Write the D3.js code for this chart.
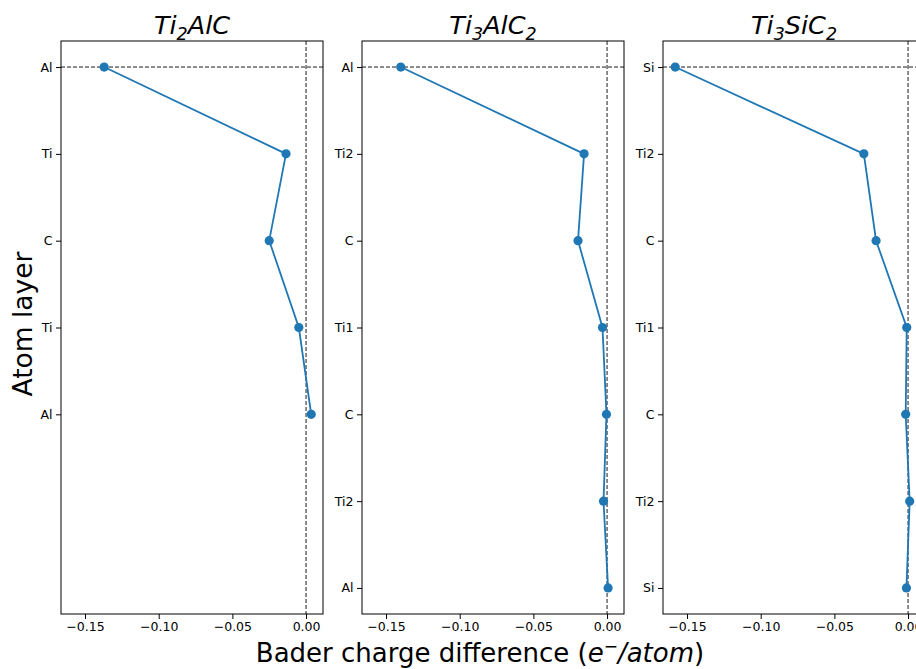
<!DOCTYPE html>
<html><head><meta charset="utf-8">
<script src="https://cdn.jsdelivr.net/npm/d3@7"></script>
<style>body{margin:0;background:#fff;overflow:hidden}svg{display:block}text{font-family:"DejaVu Sans",sans-serif}</style>
</head><body><svg id="c" width="916" height="669"></svg>
<script>
const panelTitles = [["Ti","2","AlC",""],["Ti","3","AlC","2"],["Ti","3","SiC","2"]];
const layers1 = ["Al","Ti","C","Ti","Al"];
const layers2 = ["Al","Ti2","C","Ti1","C","Ti2","Al"];
const layers3 = ["Si","Ti2","C","Ti1","C","Ti2","Si"];
const values1 = [-0.137, -0.0136, -0.025, -0.0049, 0.0035];
const values2 = [-0.140, -0.0156, -0.0197, -0.0031, -0.0004, -0.0024, 0.0007];
const values3 = [-0.158, -0.030, -0.0217, -0.0009, -0.0016, 0.0011, -0.0011];
const xTicks = [-0.15, -0.10, -0.05, 0.00];
const xDomain = [-0.1663, 0.0115];

const panels = [
  {layers: layers1, values: values1, title: panelTitles[0]},
  {layers: layers2, values: values2, title: panelTitles[1]},
  {layers: layers3, values: values3, title: panelTitles[2]}
];
const svg = d3.select("#c");
const lefts = [61, 362, 663], pw = 262, pTop = 41, pBottom = 614;
const y = d3.scaleLinear().domain([-0.3, 6.3]).range([pTop, pBottom]);
const fmt = d => d3.format(".2f")(d).replace("-", "\u2212");

panels.forEach((p, i) => {
  const x = d3.scaleLinear().domain(xDomain).range([lefts[i], lefts[i] + pw]);
  const g = svg.append("g");
  const clipId = "clip" + i;
  g.append("clipPath").attr("id", clipId).append("rect")
    .attr("x", lefts[i]).attr("y", pTop).attr("width", pw).attr("height", pBottom - pTop);
  const inner = g.append("g").attr("clip-path", `url(#${clipId})`);
  inner.append("line").attr("x1", lefts[i]).attr("x2", lefts[i] + pw)
    .attr("y1", y(0)).attr("y2", y(0))
    .attr("stroke", "#000").attr("stroke-width", 0.9).attr("stroke-dasharray", "4,2");
  inner.append("line").attr("x1", x(0)).attr("x2", x(0))
    .attr("y1", pTop).attr("y2", pBottom)
    .attr("stroke", "#000").attr("stroke-width", 0.9).attr("stroke-dasharray", "4,2");
  const pts = p.values.map((v, k) => [v, k]);
  inner.append("path").datum(pts)
    .attr("d", d3.line().x(d => x(d[0])).y(d => y(d[1])))
    .attr("fill", "none").attr("stroke", "#1f77b4").attr("stroke-width", 1.8);
  inner.selectAll("circle").data(pts).join("circle")
    .attr("cx", d => x(d[0])).attr("cy", d => y(d[1])).attr("r", 4.6)
    .attr("fill", "#1f77b4");
  const xa = g.append("g").attr("transform", `translate(0,${pBottom})`)
    .call(d3.axisBottom(x).tickValues(xTicks).tickFormat(fmt).tickSize(5).tickPadding(3));
  const ya = g.append("g").attr("transform", `translate(${lefts[i]},0)`)
    .call(d3.axisLeft(y).tickValues(d3.range(p.layers.length)).tickFormat(k => p.layers[k]).tickSize(5).tickPadding(3.5));
  [xa, ya].forEach(a => {
    a.select(".domain").remove();
    a.selectAll("line").attr("stroke", "#000").attr("stroke-width", 1);
    a.selectAll("text").attr("fill", "#000").style("font-size", "12.5px").style("font-family", "DejaVu Sans");
  });
  g.append("rect").attr("x", lefts[i]).attr("y", pTop).attr("width", pw).attr("height", pBottom - pTop)
    .attr("fill", "none").attr("stroke", "#000").attr("stroke-width", 1);
  const t = svg.append("text").attr("x", lefts[i] + pw / 2).attr("y", 34)
    .attr("text-anchor", "middle").style("font-size", "25.5px").style("font-style", "italic");
  const [a, s1, b, s2] = p.title;
  t.append("tspan").text(a);
  t.append("tspan").text(s1).attr("dy", 6).style("font-size", "17.5px");
  t.append("tspan").text(b).attr("dy", -6);
  if (s2) t.append("tspan").text(s2).attr("dy", 6).style("font-size", "17.5px");
});

svg.append("text").attr("transform", "translate(32,324) rotate(-90)")
  .attr("text-anchor", "middle").style("font-size", "26.5px").text("Atom layer");
const xl = svg.append("text").attr("x", 480).attr("y", 662).attr("text-anchor", "middle").style("font-size", "26px");
xl.append("tspan").text("Bader charge difference (");
xl.append("tspan").text("e").style("font-style", "italic");
xl.append("tspan").text("\u2212").attr("dy", -10).style("font-size", "17px");
xl.append("tspan").text("/atom").attr("dy", 10).style("font-style", "italic");
xl.append("tspan").text(")");
</script></body></html>
